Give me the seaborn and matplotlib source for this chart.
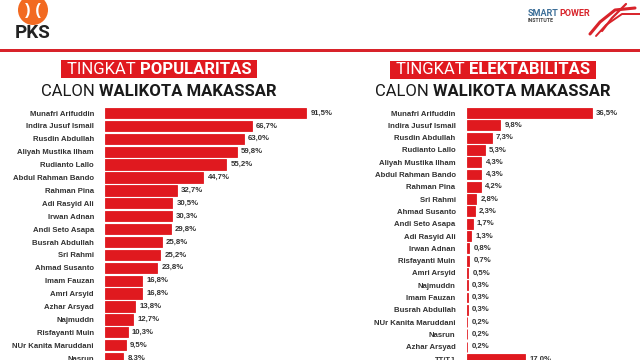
import matplotlib
matplotlib.use("Agg")
import matplotlib.pyplot as plt
import matplotlib.patches as mpatches
import seaborn as sns
import pandas as pd

sns.set_theme(style="white")
plt.rcParams['font.family'] = ['Liberation Sans', 'DejaVu Sans']

# popularity survey
pop_names = ["Munafri Arifuddin", "Indira Jusuf Ismail", "Rusdin Abdullah",
             "Aliyah Mustika Ilham", "Rudianto Lallo", "Abdul Rahman Bando",
             "Rahman Pina", "Adi Rasyid Ali", "Irwan Adnan", "Andi Seto Asapa",
             "Busrah Abdullah", "Sri Rahmi", "Ahmad Susanto", "Imam Fauzan",
             "Amri Arsyid", "Azhar Arsyad", "Najmuddn", "Risfayanti Muin",
             "NUr Kanita Maruddani", "Nasrun"]
pop_vals = [91.5, 66.7, 63.0, 59.8, 55.2, 44.7, 32.7, 30.5, 30.3, 29.8,
            25.8, 25.2, 23.8, 16.8, 16.8, 13.8, 12.7, 10.3, 9.5, 8.3]

# electability survey
ele_names = ["Munafri Arifuddin", "Indira Jusuf Ismail", "Rusdin Abdullah",
             "Rudianto Lallo", "Aliyah Mustika Ilham", "Abdul Rahman Bando",
             "Rahman Pina", "Sri Rahmi", "Ahmad Susanto", "Andi Seto Asapa",
             "Adi Rasyid Ali", "Irwan Adnan", "Risfayanti Muin", "Amri Arsyid",
             "Najmuddn", "Imam Fauzan", "Busrah Abdullah",
             "NUr Kanita Maruddani", "Nasrun", "Azhar Arsyad", "TT/TJ"]
ele_vals = [36.5, 9.8, 7.3, 5.3, 4.3, 4.3, 4.2, 2.8, 2.3, 1.7, 1.3, 0.8,
            0.7, 0.5, 0.3, 0.3, 0.3, 0.2, 0.2, 0.2, 17.0]

RED = "#e0191f"
W, H = 640, 360

fig = plt.figure(figsize=(6.4, 3.6), dpi=100)
fig.patch.set_facecolor("white")


def px_axes(x, y_top, w, h):
    return fig.add_axes([x / W, 1 - (y_top + h) / H, w / W, h / H])


def bar_panel(names, vals, x0, scale, xmax, pitch):
    # rows centred at y=113 px, spaced by pitch
    y_top = 113 - 0.5 * pitch
    n_vis = (H - 113) / pitch
    ax = px_axes(x0, y_top, xmax * scale, H - y_top)
    df = pd.DataFrame({"name": names, "val": vals})
    sns.barplot(data=df, x="val", y="name", orient="h", color=RED,
                width=0.8, saturation=1, edgecolor=RED, linewidth=0.6,
                ax=ax)
    ax.set_xlim(0, xmax)
    ax.set_ylim(n_vis, -0.5)
    ax.set_xlabel("")
    ax.set_ylabel("")
    ax.set_xticks([])
    for s in ax.spines.values():
        s.set_visible(False)
    ax.tick_params(axis="y", length=0, pad=8, labelsize=5.6,
                   labelcolor="#333333")
    for lab in ax.get_yticklabels():
        lab.set_fontweight("bold")
    labels = [("%.1f%%" % v).replace(".", ",") for v in vals]
    ax.bar_label(ax.containers[0], labels=labels, padding=3, fontsize=5.6,
                 fontweight="bold", color="#333333")
    ax.patch.set_alpha(0)
    return ax


bar_panel(pop_names, pop_vals, 105, 2.2, 100, 12.9)
bar_panel(ele_names, ele_vals, 466.7, 3.43, 45, 12.3)

# overlay axes in pixel coordinates for header and titles
ov = fig.add_axes([0, 0, 1, 1], zorder=-1)
ov.set_xlim(0, W)
ov.set_ylim(H, 0)
ov.axis("off")

# red rule under the header
ov.add_patch(mpatches.Rectangle((0, 48.5), W, 3, color="#d8232a", lw=0))

# PKS logo
ov.add_patch(mpatches.Circle((33, 10), 15, color="#f26a21", lw=0))
ov.text(33, 10, ") (", ha="center", va="center", color="white",
        fontsize=12, fontweight="bold")
ov.text(33, 33, "PKS", ha="center", va="center", color="#222222",
        fontsize=13.5, fontweight="bold", family="Roboto")

# Smart Power Institute logo
ov.text(528, 13.5, "SMART", ha="left", va="center", color="#3d6f98",
        fontsize=6.5, fontweight="bold", family="Roboto")
ov.text(559, 13.5, "POWER", ha="left", va="center", color="#d8232a",
        fontsize=6.5, fontweight="bold", family="Roboto")
ov.text(528, 20.5, "INSTITUTE", ha="left", va="center", color="#444444",
        fontsize=3.8, fontweight="bold", family="Roboto")
ov.plot([590, 600, 615, 635], [34, 22, 10, 8], color="#d8232a", lw=2.2)
ov.plot([596, 606, 622, 640], [36, 25, 14, 14], color="#d8232a", lw=1.4)
ov.plot([602, 612, 626], [31, 18, 4], color="#d8232a", lw=1.6)

fig.canvas.draw()
renderer = fig.canvas.get_renderer()


def mixed_title(cx, cy, parts, color, size, box=None):
    texts = []
    for txt, wt in parts:
        t = ov.text(0, cy, txt, ha="left", va="center", color=color,
                    fontsize=size, fontweight=wt, family="Roboto")
        texts.append(t)
    widths = [t.get_window_extent(renderer).width for t in texts]
    total = sum(widths)
    x = cx - total / 2
    for t, w in zip(texts, widths):
        t.set_x(x)
        x += w
    if box is not None:
        ov.add_patch(mpatches.Rectangle((cx - total / 2 - 6, box[0]),
                                        total + 12, box[1] - box[0],
                                        color=RED, lw=0, zorder=0))


mixed_title(159, 69, [("TINGKAT ", "normal"), ("POPULARITAS", "bold")],
            "white", 12, box=(59.5, 78))
mixed_title(159, 92, [("CALON ", "normal"), ("WALIKOTA MAKASSAR", "bold")],
            "#1a1a1a", 12)
mixed_title(493, 70, [("TINGKAT ", "normal"), ("ELEKTABILITAS", "bold")],
            "white", 12, box=(61, 79))
mixed_title(493, 92, [("CALON ", "normal"), ("WALIKOTA MAKASSAR", "bold")],
            "#1a1a1a", 12)

fig.savefig("out.png", dpi=100)
